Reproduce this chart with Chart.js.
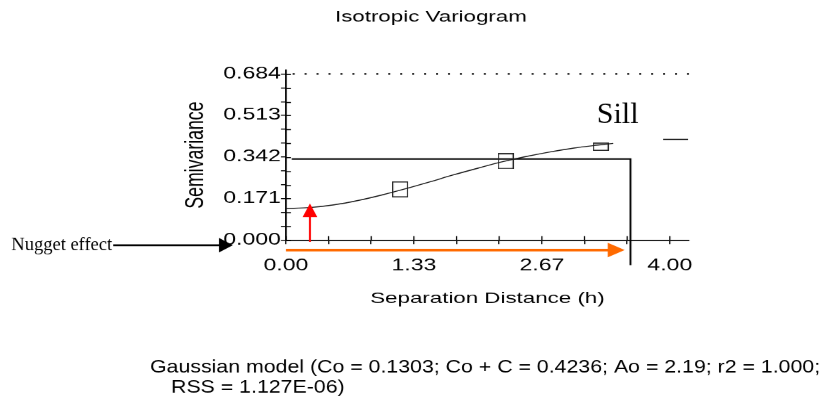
<!DOCTYPE html>
<html>
<head>
<meta charset="utf-8">
<script src="https://cdn.jsdelivr.net/npm/chart.js@4"></script>
<style>
  html, body { margin: 0; padding: 0; background: #fff; overflow: hidden; }
  #wrap { position: absolute; left: 0; top: 0; width: 571px; height: 401px; transform: scaleX(1.43958); transform-origin: 0 0; }
</style>
</head>
<body>
<div id="wrap"><canvas id="chart" width="571" height="401"></canvas></div>
<script>
// the original picture is stretched sideways, so the canvas is too
const SX = 822 / 571;
const SANS = '"Liberation Sans", Arial, sans-serif';
const SERIF = '"Liberation Serif", "Times New Roman", serif';

// fitted Gaussian model
const modelH = [0, 0.25, 0.5, 0.75, 1.0, 1.25, 1.5, 1.75, 2.0, 2.25, 2.5, 2.75, 3.0, 3.25, 3.41];
const modelGamma = [0.130, 0.134, 0.145, 0.163, 0.186, 0.212, 0.240, 0.269, 0.296, 0.322, 0.344, 0.363, 0.379, 0.391, 0.398];

// sample semivariances (boxes)
const obsH = [1.19, 2.29, 3.28];
const obsGamma = [0.209, 0.325, 0.384];

// axes
const xTickValues = [0, 0.444, 0.889, 1.333, 1.778, 2.222, 2.667, 3.111, 3.556, 4.0];
const xTickLabels = ['0.00', '', '', '1.33', '', '', '2.67', '', '', '4.00'];
const yTickValues = [0, 0.057, 0.114, 0.171, 0.228, 0.285, 0.342, 0.399, 0.456, 0.513, 0.570, 0.627, 0.684];
const yTickLabels = ['0.000', '', '', '0.171', '', '', '0.342', '', '', '0.513', '', '', '0.684'];

// annotations (data units)
const sillLevel = 0.334, sillStart = 0.06, sillRange = 3.59, sillDrop = -0.103;
const topLevel = 0.684;
const nuggetH = 0.25, nuggetTop = 0.151;
const rangeArrowY = -0.041, rangeArrowEnd = 3.53;
const nuggetArrowY = -0.021, nuggetArrowFrom = -1.80, nuggetArrowTo = -0.552;

const caption = [
  'Gaussian model (Co = 0.1303; Co + C = 0.4236; Ao = 2.19; r2 = 1.000;',
  'RSS = 1.127E-06)'
];

function boxImage(w, h) {
  // w, h in screen px; image is drawn into a stretched canvas
  const c = document.createElement('canvas');
  c.width = Math.round(w);
  c.height = Math.round(h * SX);
  const g = c.getContext('2d');
  g.fillStyle = '#222';
  const hy = 1.1 * SX;
  g.fillRect(0, 0, c.width, hy);
  g.fillRect(0, c.height - hy, c.width, hy);
  g.fillRect(0, 0, 1.1, c.height);
  g.fillRect(c.width - 1.1, 0, 1.1, c.height);
  const img = new Image();
  img.width = Math.round(w / SX);
  img.height = h;
  return new Promise(res => { img.onload = () => res(img); img.src = c.toDataURL(); });
}

function tri(ctx, pts, color) {
  ctx.beginPath();
  ctx.moveTo(pts[0], pts[1]);
  ctx.lineTo(pts[2], pts[3]);
  ctx.lineTo(pts[4], pts[5]);
  ctx.closePath();
  ctx.fillStyle = color;
  ctx.fill();
}

const marks = {
  id: 'marks',
  afterDraw(chart) {
    const { ctx, scales: { x, y } } = chart;
    ctx.save();

    // ticks also cross into the plot
    ctx.strokeStyle = '#000';
    ctx.lineWidth = 1;
    ctx.beginPath();
    yTickValues.forEach(v => {
      const py = Math.round(y.getPixelForValue(v)) + 0.5;
      ctx.moveTo(x.left, py);
      ctx.lineTo(x.left + 5 / SX, py);
    });
    ctx.stroke();
    ctx.lineWidth = 0.85;
    ctx.beginPath();
    xTickValues.forEach(v => {
      const px = x.getPixelForValue(v);
      ctx.moveTo(px, y.bottom);
      ctx.lineTo(px, y.bottom - 4);
    });
    ctx.stroke();

    // red nugget arrow
    const rx = x.getPixelForValue(nuggetH);
    const rTip = y.getPixelForValue(nuggetTop);
    ctx.strokeStyle = '#ff0000';
    ctx.lineWidth = 2 / SX;
    ctx.beginPath();
    ctx.moveTo(rx, y.getPixelForValue(-0.007));
    ctx.lineTo(rx, rTip + 12);
    ctx.stroke();
    tri(ctx, [rx, rTip, rx - 7.3 / SX, rTip + 13.5, rx + 7.3 / SX, rTip + 13.5], '#ff0000');

    // orange range arrow
    const oy = y.getPixelForValue(rangeArrowY);
    const oTip = x.getPixelForValue(rangeArrowEnd);
    ctx.strokeStyle = '#ff6a00';
    ctx.lineWidth = 2.5;
    ctx.beginPath();
    ctx.moveTo(x.getPixelForValue(0), oy);
    ctx.lineTo(oTip - 14 / SX, oy);
    ctx.stroke();
    tri(ctx, [oTip, oy, oTip - 17 / SX, oy - 7.3, oTip - 17 / SX, oy + 7.3], '#ff6a00');

    // black "Nugget effect" arrow
    const ny = y.getPixelForValue(nuggetArrowY);
    const nFrom = x.getPixelForValue(nuggetArrowFrom);
    const nTip = x.getPixelForValue(nuggetArrowTo);
    ctx.strokeStyle = '#000';
    ctx.lineWidth = 2;
    ctx.beginPath();
    ctx.moveTo(nFrom, ny);
    ctx.lineTo(nTip - 11 / SX, ny);
    ctx.stroke();
    tri(ctx, [nTip, ny, nTip - 14 / SX, ny - 7.3, nTip - 14 / SX, ny + 7.3], '#000');

    // texts that are not stretched
    ctx.scale(1 / SX, 1);
    ctx.fillStyle = '#000';
    ctx.font = '18.5px ' + SERIF;
    ctx.textAlign = 'right';
    ctx.textBaseline = 'middle';
    ctx.fillText('Nugget effect', nFrom * SX - 1, ny);
    ctx.font = '30px ' + SERIF;
    ctx.textAlign = 'left';
    ctx.textBaseline = 'alphabetic';
    ctx.fillText('Sill', x.getPixelForValue(3.24) * SX, y.getPixelForValue(0.482));

    // caption below the chart
    const capSX = 1.218;
    ctx.scale(capSX, 1);
    ctx.font = '17.5px ' + SANS;
    ctx.fillText(caption[0], 150 / capSX, 372.5);
    ctx.fillText(caption[1], 171 / capSX, 392.7);
    ctx.restore();
  }
};

Promise.all([boxImage(16, 16), boxImage(16, 16), boxImage(16, 8)]).then(boxes => {
  new Chart(document.getElementById('chart'), {
    type: 'line',
    data: {
      datasets: [
        { label: 'model', data: modelH.map((h, i) => ({ x: h, y: modelGamma[i] })),
          borderColor: '#1a1a1a', borderWidth: 1, pointRadius: 0, cubicInterpolationMode: 'monotone' },
        { label: 'observed', data: obsH.map((h, i) => ({ x: h, y: obsGamma[i] })),
          showLine: false, pointStyle: boxes, pointRadius: 8 },
        { label: 'sill', data: [{ x: sillStart, y: sillLevel }, { x: sillRange, y: sillLevel }, { x: sillRange, y: sillDrop }],
          borderColor: '#000', borderWidth: 1.3, pointRadius: 0, clip: false },
        { label: 'top', data: [{ x: 0.07, y: topLevel }, { x: 4.2, y: topLevel }],
          borderColor: '#000', borderWidth: 1.6, borderDash: [1.4, 6.9], pointRadius: 0, clip: false },
        { label: 'mark', data: [{ x: 3.93, y: 0.415 }, { x: 4.19, y: 0.415 }],
          borderColor: '#000', borderWidth: 1, pointRadius: 0 }
      ]
    },
    options: {
      responsive: false,
      devicePixelRatio: SX,
      animation: false,
      events: [],
      layout: { padding: { left: 120, right: 92.4, top: 0, bottom: 93.2 } },
      plugins: {
        legend: { display: false },
        tooltip: { enabled: false },
        title: { display: true, text: 'Isotropic Variogram', color: '#000',
          font: { family: SANS, size: 15.5, weight: 'normal' }, padding: { top: 7.9, bottom: 43.5 } }
      },
      scales: {
        x: {
          type: 'linear', min: 0, max: 4.2,
          afterBuildTicks: s => { s.ticks = xTickValues.map(v => ({ value: v })); },
          afterFit: s => { s.height = 67.8; s.paddingLeft = 0; s.paddingRight = 0; },
          ticks: { callback: (v, i) => xTickLabels[i], autoSkip: false, maxRotation: 0,
            color: '#000', padding: 12, font: { family: SANS, size: 16 } },
          grid: { drawOnChartArea: false, tickLength: 4, color: '#000', lineWidth: 0.85 },
          border: { color: '#000', width: 1.3 },
          title: { display: true, text: 'Separation Distance (h)', color: '#000',
            font: { family: SANS, size: 15.5 }, padding: { top: 0, bottom: 0 } }
        },
        y: {
          min: 0, max: 0.70,
          afterBuildTicks: s => { s.ticks = yTickValues.map(v => ({ value: v })); },
          afterFit: s => { s.width = 78.6; s.paddingTop = 0; s.paddingBottom = 0; },
          ticks: { callback: (v, i) => yTickLabels[i], autoSkip: false,
            color: '#000', padding: 0, font: { family: SANS, size: 16 } },
          grid: { drawOnChartArea: false, tickLength: 5 / SX, color: '#000', lineWidth: 1 },
          border: { color: '#000', width: 1.2 },
          title: { display: true, text: 'Semivariance', color: '#000',
            font: { family: SANS, size: 17.7 }, padding: { top: 5.4, bottom: 0 } }
        }
      }
    },
    plugins: [marks]
  });
});
</script>
</body>
</html>
